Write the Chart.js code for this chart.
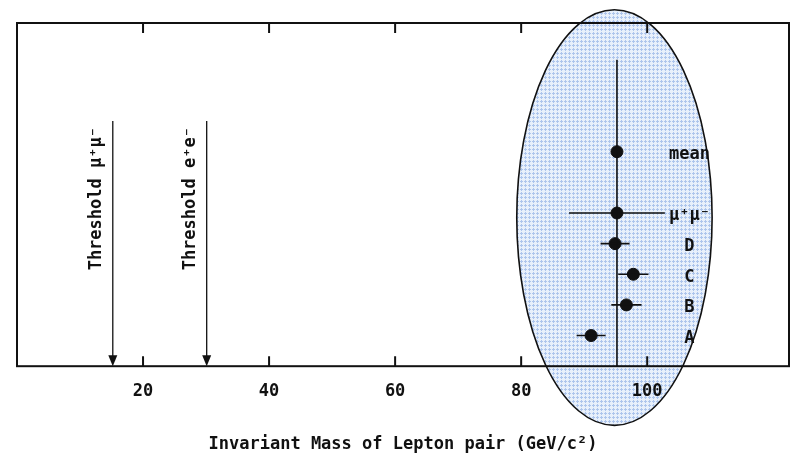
<!DOCTYPE html>
<html>
<head>
<meta charset="utf-8">
<script src="https://cdn.jsdelivr.net/npm/chart.js@4"></script>
<style>
  body { margin: 0; background: #fff; }
  #wrap { width: 798px; height: 457px; }
</style>
</head>
<body>
<div id="wrap"><canvas id="myChart" width="798" height="457"></canvas></div>
<script>
// measurements, top to bottom as in the picture
const rowNames = ['mean', 'μ⁺μ⁻', 'D', 'C', 'B', 'A']
const rowPos = [7, 5, 4, 3, 2, 1]
const massValues = [95.2, 95.2, 94.9, 97.8, 96.7, 91.1]
const massErrors = [0, 7.6, 2.3, 2.4, 2.4, 2.3]

const meanMass = 95.2
const meanLineTop = 10

const thresholdNames = ['Threshold μ⁺μ⁻', 'Threshold e⁺e⁻']
const thresholdMass = [15.2, 30.1]
const thresholdTop = 8

const xTicks = [20, 40, 60, 80, 100]
const xTitle = 'Invariant Mass of Lepton pair (GeV/c²)'

// shaded ellipse round the Z region, in data units
const ellipseCenter = [94.8, 4.85]
const ellipseRadius = [15.5, 6.78]
const labelMass = 106.7

const FONT = "'DejaVu Sans Mono', monospace"
const INK = '#111'

// dotted blue texture for the ellipse
const patCanvas = document.createElement('canvas')
patCanvas.width = 4
patCanvas.height = 4
const pc = patCanvas.getContext('2d')
pc.fillStyle = '#e8f0fb'
pc.fillRect(0, 0, 4, 4)
pc.fillStyle = '#adc5ec'
pc.fillRect(1, 0, 1, 3)
pc.fillRect(0, 1, 3, 1)

const errorSets = rowNames.map((name, i) => ({
    label: name + ' err',
    type: 'line',
    data: [
        { x: massValues[i] - massErrors[i], y: rowPos[i] },
        { x: massValues[i] + massErrors[i], y: rowPos[i] }
    ],
    borderColor: INK,
    borderWidth: 1.6,
    pointRadius: 0
}))

const extras = {
    id: 'extras',
    beforeDraw(chart) {
        const { ctx, scales: { x, y } } = chart
        const cx = x.getPixelForValue(ellipseCenter[0])
        const cy = y.getPixelForValue(ellipseCenter[1])
        const rx = x.getPixelForValue(ellipseCenter[0] + ellipseRadius[0]) - cx
        const ry = cy - y.getPixelForValue(ellipseCenter[1] + ellipseRadius[1])
        ctx.save()
        ctx.beginPath()
        ctx.ellipse(cx, cy, rx, ry, 0, 0, Math.PI * 2)
        ctx.fillStyle = ctx.createPattern(patCanvas, 'repeat')
        ctx.fill()
        ctx.lineWidth = 1.6
        ctx.strokeStyle = INK
        ctx.stroke()
        ctx.restore()
    },
    afterDraw(chart) {
        const { ctx, chartArea: a, scales: { x, y } } = chart
        ctx.save()
        ctx.strokeStyle = INK
        ctx.fillStyle = INK
        // frame
        ctx.lineWidth = 2
        ctx.strokeRect(a.left, a.top, a.right - a.left, a.bottom - a.top)
        // inward ticks, top and bottom
        xTicks.forEach((v) => {
            const px = x.getPixelForValue(v)
            ctx.beginPath()
            ctx.moveTo(px, a.bottom)
            ctx.lineTo(px, a.bottom - 10)
            ctx.moveTo(px, a.top)
            ctx.lineTo(px, a.top + 10)
            ctx.stroke()
        })
        // threshold arrows
        ctx.font = 'bold 17px ' + FONT
        thresholdMass.forEach((m, i) => {
            const px = x.getPixelForValue(m)
            const top = y.getPixelForValue(thresholdTop)
            ctx.lineWidth = 1.3
            ctx.beginPath()
            ctx.moveTo(px, top)
            ctx.lineTo(px, a.bottom - 8)
            ctx.stroke()
            ctx.beginPath()
            ctx.moveTo(px - 4.5, a.bottom - 11)
            ctx.lineTo(px + 4.5, a.bottom - 11)
            ctx.lineTo(px, a.bottom)
            ctx.closePath()
            ctx.fill()
            ctx.save()
            ctx.translate(px - 16, top + 6)
            ctx.rotate(-Math.PI / 2)
            ctx.textAlign = 'right'
            ctx.textBaseline = 'middle'
            ctx.fillText(thresholdNames[i], 0, 0)
            ctx.restore()
        })
        // row names
        ctx.textAlign = 'center'
        ctx.textBaseline = 'middle'
        rowNames.forEach((name, i) => {
            ctx.fillText(name, x.getPixelForValue(labelMass), y.getPixelForValue(rowPos[i]) + 3)
        })
        ctx.restore()
    }
}

new Chart(document.getElementById('myChart'), {
    type: 'scatter',
    data: {
        datasets: [
            {
                label: 'mean line',
                type: 'line',
                data: [{ x: meanMass, y: 0 }, { x: meanMass, y: meanLineTop }],
                borderColor: INK,
                borderWidth: 1.6,
                pointRadius: 0
            },
            ...errorSets,
            {
                label: 'mass',
                data: massValues.map((m, i) => ({ x: m, y: rowPos[i] })),
                pointRadius: 6,
                pointBackgroundColor: INK,
                pointBorderColor: INK
            }
        ]
    },
    options: {
        responsive: false,
        animation: false,
        layout: { padding: { left: 17, right: 9, top: 23, bottom: 0 } },
        plugins: { legend: { display: false }, tooltip: { enabled: false } },
        scales: {
            x: {
                type: 'linear',
                min: 0,
                max: 122.5,
                afterBuildTicks: (axis) => { axis.ticks = xTicks.map((v) => ({ value: v })) },
                grid: { display: false, drawTicks: false },
                border: { display: false },
                ticks: { color: INK, padding: 15, font: { family: FONT, size: 17, weight: 'bold' } },
                title: {
                    display: true,
                    text: xTitle,
                    color: INK,
                    padding: { top: 18, bottom: 2 },
                    font: { family: FONT, size: 17, weight: 'bold' }
                }
            },
            y: {
                type: 'linear',
                min: 0,
                max: 11.2,
                display: false
            }
        }
    },
    plugins: [extras]
})
</script>
</body>
</html>
